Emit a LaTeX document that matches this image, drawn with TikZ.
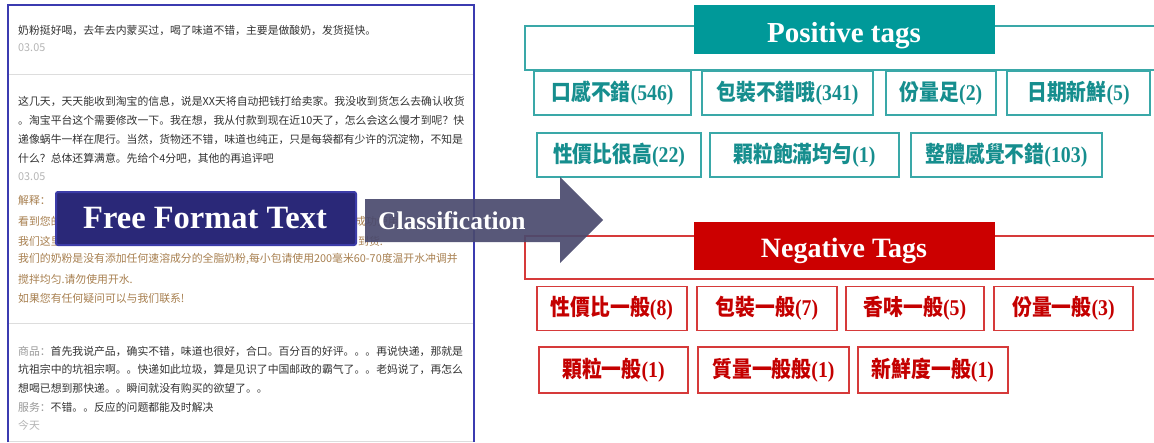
\documentclass[tikz,border=0pt]{standalone}
\usepackage{fontspec}
\setmainfont{Liberation Serif}
\newfontfamily\cjks{Noto Sans CJK SC}
\newfontfamily\cjkt[FakeStretch=0.88]{Noto Sans CJK TC}
\newfontfamily\numf[FakeStretch=0.88]{Liberation Serif}
\definecolor{panelblue}{HTML}{3B3BB0}
\definecolor{txtdark}{HTML}{333333}
\definecolor{txtgray}{HTML}{B5B5B5}
\definecolor{txtbrown}{HTML}{A88050}
\definecolor{lblgray}{HTML}{999999}
\definecolor{sepgray}{HTML}{DDDDDD}
\definecolor{ffill}{HTML}{2A2878}
\definecolor{fdraw}{HTML}{3C3CA8}
\definecolor{arrowc}{HTML}{4A4A6E}
\definecolor{tealfill}{HTML}{009999}
\definecolor{tealline}{HTML}{3AA8A8}
\definecolor{tealtext}{HTML}{168E8E}
\definecolor{redfill}{HTML}{CC0000}
\definecolor{redline}{HTML}{D63A3A}
\definecolor{redtext}{HTML}{C40000}
\tikzset{
  rev/.style={anchor=west, inner sep=0, font=\cjks\fontsize{10.85}{13}\selectfont, text=txtdark},
  revdate/.style={rev, text=txtgray},
  revreply/.style={rev, text=txtbrown},
  tagbase/.style={inner sep=0, minimum height=44, line width=1.1, font=\bfseries\fontsize{22.5}{24}\selectfont},
  tagpos/.style={tagbase, draw=tealline, text=tealtext},
  tagneg/.style={tagbase, draw=redline, text=redtext},
  titlebox/.style={inner sep=0, minimum width=301},
  titletext/.style={anchor=base, inner sep=0, text=white, font=\bfseries\fontsize{29}{30}\selectfont},
}
\newcommand{\tg}[2]{{\cjkt #1}{\numf #2}}
\begin{document}
\begin{tikzpicture}[x=1pt,y=-1pt]
\useasboundingbox (0,0) rectangle (1154,442);
% left panel
\fill[white] (8,5) rectangle (474,441);
\draw[sepgray, line width=0.8] (8,441) -- (474,441);
\draw[panelblue, line width=1.3] (8,442) -- (8,5) -- (474,5) -- (474,442);
\draw[sepgray, line width=0.8] (9,74) -- (473,74);
\draw[sepgray, line width=0.8] (9,323) -- (473,323);
\node[rev] (r1) at (18,30) {奶粉挺好喝，去年去内蒙买过，喝了味道不错，主要是做酸奶，发货挺快。};
\node[revdate] (d1) at (18,48) {03.05};
\node[rev] (r2a) at (18,101) {这几天，天天能收到淘宝的信息，说是XX天将自动把钱打给卖家。我没收到货怎么去确认收货};
\node[rev] (r2b) at (18,120) {。淘宝平台这个需要修改一下。我在想，我从付款到现在近10天了，怎么会这么慢才到呢？快};
\node[rev] (r2c) at (18,139) {递像蜗牛一样在爬行。当然，货物还不错，味道也纯正，只是每袋都有少许的沉淀物，不知是};
\node[rev] (r2d) at (18,158) {什么？总体还算满意。先给个4分吧，其他的再追评吧};
\node[revdate] (d2) at (18,177) {03.05};
\node[revreply] (e1) at (18,200) {解释：};
\node[revreply] (e2) at (18,221) {看到您的};
\node[revreply] (e2r) at (355,221) {成功使用};
\node[revreply] (e3) at (18,241) {我们这里};
\node[revreply] (e3r) at (358,241) {到货.};
\node[revreply] (e4) at (18,259) {我们的奶粉是没有添加任何速溶成分的全脂奶粉,每小包请使用200毫米60-70度温开水冲调并};
\node[revreply] (e5) at (18,279) {搅拌均匀.请勿使用开水.};
\node[revreply] (e6) at (18,298) {如果您有任何疑问可以与我们联系!};
\node[rev] (r3a) at (18,351) {{\color{lblgray}商品：}首先我说产品，确实不错，味道也很好，合口。百分百的好评。。。再说快递，那就是};
\node[rev] (r3b) at (18,369) {坑祖宗中的坑祖宗啊。。快递如此垃圾，算是见识了中国邮政的霸气了。。老妈说了，再怎么};
\node[rev] (r3c) at (18,388) {想喝已想到那快递。。瞬间就没有购买的欲望了。。};
\node[rev] (r3d) at (18,407) {{\color{lblgray}服务：}不错。。反应的问题都能及时解决};
\node[revdate] (d3) at (18,425) {今天};
% positive group
\draw[tealline, line width=1.1] (1160,26) -- (525,26) -- (525,70) -- (1160,70);
\node[titlebox, fill=tealfill, minimum height=49] (ptitle) at (844.5,29.5) {};
\node[titletext] (ptext) at (844,42) {Positive tags};
\node[tagpos, minimum width=157] (p1) at (612.5,93) {\tg{口感不錯}{(546)}};
\node[tagpos, minimum width=171] (p2) at (787.5,93) {\tg{包裝不錯哦}{(341)}};
\node[tagpos, minimum width=110] (p3) at (941,93) {\tg{份量足}{(2)}};
\node[tagpos, minimum width=143] (p4) at (1078.5,93) {\tg{日期新鮮}{(5)}};
\node[tagpos, minimum width=164] (p5) at (619,155) {\tg{性價比很高}{(22)}};
\node[tagpos, minimum width=189] (p6) at (804.5,155) {\tg{顆粒飽滿均勻}{(1)}};
\node[tagpos, minimum width=191] (p7) at (1006.5,155) {\tg{整體感覺不錯}{(103)}};
% negative group
\draw[redline, line width=1.1] (1160,236) -- (525,236) -- (525,279) -- (1160,279);
\node[titlebox, fill=redfill, minimum height=48] (ntitle) at (844.5,246) {};
\node[titletext, font=\bfseries\fontsize{28}{30}\selectfont] (ntext) at (844,257) {Negative Tags};
\node[tagneg, minimum width=150] (n1) at (612,308.5) {\tg{性價比一般}{(8)}};
\node[tagneg, minimum width=140] (n2) at (767,308.5) {\tg{包裝一般}{(7)}};
\node[tagneg, minimum width=138] (n3) at (915,308.5) {\tg{香味一般}{(5)}};
\node[tagneg, minimum width=139] (n4) at (1063.5,308.5) {\tg{份量一般}{(3)}};
\node[tagneg, minimum width=149, minimum height=46] (n5) at (613.5,370) {\tg{顆粒一般}{(1)}};
\node[tagneg, minimum width=151, minimum height=46] (n6) at (773.5,370) {\tg{質量一般般}{(1)}};
\node[tagneg, minimum width=150, minimum height=46] (n7) at (933,370) {\tg{新鮮度一般}{(1)}};
% arrow and labels
\fill[arrowc, opacity=0.92] (365,199) -- (560,199) -- (560,177) -- (603,220) -- (560,263) -- (560,242) -- (365,242) -- cycle;
\node[anchor=west, inner sep=0, text=white, font=\bfseries\fontsize{25.5}{27}\selectfont] (cls) at (378,221) {Classification};
\node[fill=ffill, draw=fdraw, line width=2, rounded corners=2, minimum width=300, minimum height=53, inner sep=0] (fft) at (206,218.5) {};
\node[inner sep=0, text=white, font=\bfseries\fontsize{32.5}{34}\selectfont] (fftext) at (205,218.5) {Free Format Text};
\end{tikzpicture}
\end{document}
